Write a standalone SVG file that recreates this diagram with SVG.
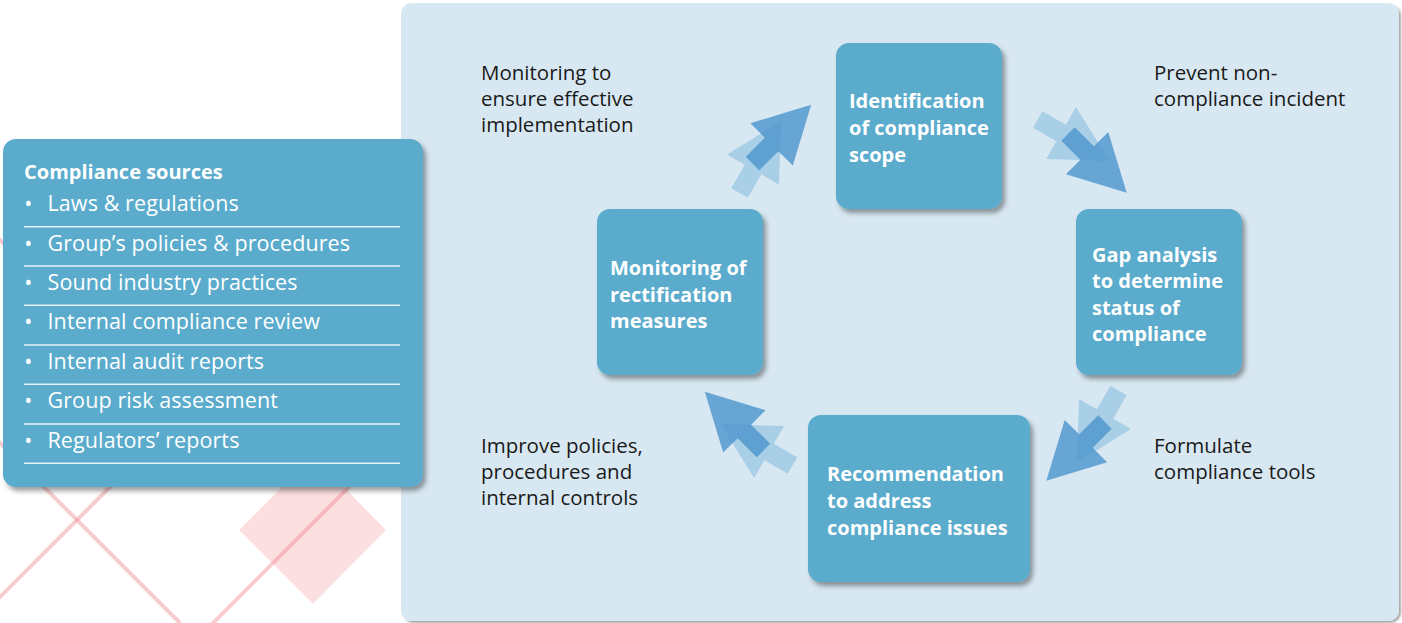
<svg xmlns="http://www.w3.org/2000/svg" xmlns:xlink="http://www.w3.org/1999/xlink" width="1402" height="623" viewBox="0 0 1402 623">
  <style>
    .panel { fill: #d8e8f2; }
    .box { fill: #5aabcc; }
    .node-text { font-family: "Open Sans", "Noto Sans", sans-serif; font-weight: 700; font-size: 20px; fill: #ffffff; }
    .src-title { font-family: "Open Sans", "Noto Sans", sans-serif; font-weight: 700; font-size: 20px; fill: #ffffff; }
    .src-item { font-family: "Open Sans", "Noto Sans", sans-serif; font-size: 21.5px; fill: #ffffff; letter-spacing: 0.1px; }
    .src-rule { stroke: #e4f2f7; stroke-width: 1.5; }
    .note { font-family: "Open Sans", "Noto Sans", sans-serif; font-size: 20.5px; fill: #1a1a1a; }
    .deco-line { stroke: #f08d95; stroke-opacity: 0.45; stroke-width: 4; fill: none; }
    .deco-fill { fill: #f9c4c9; fill-opacity: 0.55; }
    .arrow-back { fill: #a9cfe7; }
    .arrow-front { fill: #4a94cc; fill-opacity: 0.8; }
  </style>
  <defs>
    <filter id="shadow" x="-10%" y="-10%" width="125%" height="125%">
      <feDropShadow dx="3" dy="4" stdDeviation="2.5" flood-color="#000000" flood-opacity="0.38"/>
    </filter>
    <filter id="panelShadow" x="-5%" y="-5%" width="110%" height="110%">
      <feDropShadow dx="2" dy="2" stdDeviation="1" flood-color="#000000" flood-opacity="0.35"/>
    </filter>
    <!-- arrow pointing along +x, tail centre at origin -->
    <polygon id="arr" points="0,-9.5 27,-9.5 27,-30 83,0 27,30 27,9.5 0,9.5"/>
  </defs>

  <!-- background ornaments -->
  <g id="ornament">
    <polygon class="deco-fill" points="239,530 313,456 386,530 313,604"/>
    <line class="deco-line" x1="-10" y1="607" x2="160" y2="437"/>
    <line class="deco-line" x1="-10" y1="433" x2="180" y2="623"/>
    <line class="deco-line" x1="203" y1="633" x2="420" y2="416"/>
    <line class="deco-line" x1="-10" y1="230" x2="40" y2="280"/>
  </g>

  <!-- cycle panel -->
  <rect class="panel" x="401" y="3" width="998" height="618" rx="11" filter="url(#panelShadow)"/>

  <!-- compliance sources -->
  <g id="sources">
    <rect class="box" x="3" y="139" width="420" height="348" rx="13" filter="url(#shadow)"/>
    <text class="src-title" x="24" y="179">Compliance sources</text>
    <g class="src-item">
      <text x="28.3" y="211" text-anchor="middle">•</text><text x="47.5" y="211">Laws &amp; regulations</text>
      <text x="28.3" y="250.5" text-anchor="middle">•</text><text x="47.5" y="250.5">Group’s policies &amp; procedures</text>
      <text x="28.3" y="290" text-anchor="middle">•</text><text x="47.5" y="290">Sound industry practices</text>
      <text x="28.3" y="329.3" text-anchor="middle">•</text><text x="47.5" y="329.3">Internal compliance review</text>
      <text x="28.3" y="368.7" text-anchor="middle">•</text><text x="47.5" y="368.7">Internal audit reports</text>
      <text x="28.3" y="408" text-anchor="middle">•</text><text x="47.5" y="408">Group risk assessment</text>
      <text x="28.3" y="447.5" text-anchor="middle">•</text><text x="47.5" y="447.5">Regulators’ reports</text>
    </g>
    <g class="src-rule">
      <line x1="24" y1="226.7" x2="400" y2="226.7"/>
      <line x1="24" y1="266" x2="400" y2="266"/>
      <line x1="24" y1="305.3" x2="400" y2="305.3"/>
      <line x1="24" y1="345" x2="400" y2="345"/>
      <line x1="24" y1="384.3" x2="400" y2="384.3"/>
      <line x1="24" y1="424" x2="400" y2="424"/>
      <line x1="24" y1="463.3" x2="400" y2="463.3"/>
    </g>
  </g>

  <!-- connectors: cycle arrows -->
  <g id="connectors">
    <use href="#arr" class="arrow-back" transform="translate(739.5,193) rotate(-60)"/>
    <use href="#arr" class="arrow-front" transform="translate(752.5,163.5) rotate(-45)"/>
    <use href="#arr" class="arrow-back" transform="translate(1037.7,119.5) rotate(30)"/>
    <use href="#arr" class="arrow-front" transform="translate(1068,134) rotate(45)"/>
    <use href="#arr" class="arrow-back" transform="translate(1118.5,390.5) rotate(120)"/>
    <use href="#arr" class="arrow-front" transform="translate(1105,422) rotate(135)"/>
    <use href="#arr" class="arrow-back" transform="translate(792.5,465.5) rotate(210)"/>
    <use href="#arr" class="arrow-front" transform="translate(763.5,450.5) rotate(225)"/>
  </g>

  <!-- cycle steps -->
  <g id="identification">
    <rect class="box" x="836" y="43" width="166" height="166" rx="13" filter="url(#shadow)"/>
    <text class="node-text" x="849" y="108">Identification</text>
    <text class="node-text" x="849" y="135">of compliance</text>
    <text class="node-text" x="849" y="162">scope</text>
  </g>
  <g id="gap-analysis">
    <rect class="box" x="1076" y="209" width="166" height="166" rx="13" filter="url(#shadow)"/>
    <text class="node-text" x="1092" y="262">Gap analysis</text>
    <text class="node-text" x="1092" y="288">to determine</text>
    <text class="node-text" x="1092" y="314.5">status of</text>
    <text class="node-text" x="1092" y="341">compliance</text>
  </g>
  <g id="recommendation">
    <rect class="box" x="808" y="415" width="222" height="167" rx="13" filter="url(#shadow)"/>
    <text class="node-text" x="827" y="481">Recommendation</text>
    <text class="node-text" x="827" y="508">to address</text>
    <text class="node-text" x="827" y="535">compliance issues</text>
  </g>
  <g id="monitoring">
    <rect class="box" x="597" y="209" width="166" height="166" rx="13" filter="url(#shadow)"/>
    <text class="node-text" x="610" y="275">Monitoring of</text>
    <text class="node-text" x="610" y="302">rectification</text>
    <text class="node-text" x="610" y="328">measures</text>
  </g>

  <!-- outcome notes -->
  <g id="note-monitoring">
    <text class="note" x="481" y="80">Monitoring to</text>
    <text class="note" x="481" y="106">ensure effective</text>
    <text class="note" x="481" y="132">implementation</text>
  </g>
  <g id="note-prevent">
    <text class="note" x="1154" y="80">Prevent non-</text>
    <text class="note" x="1154" y="106">compliance incident</text>
  </g>
  <g id="note-improve">
    <text class="note" x="481" y="453">Improve policies,</text>
    <text class="note" x="481" y="479">procedures and</text>
    <text class="note" x="481" y="505">internal controls</text>
  </g>
  <g id="note-formulate">
    <text class="note" x="1154" y="453">Formulate</text>
    <text class="note" x="1154" y="479">compliance tools</text>
  </g>
</svg>
